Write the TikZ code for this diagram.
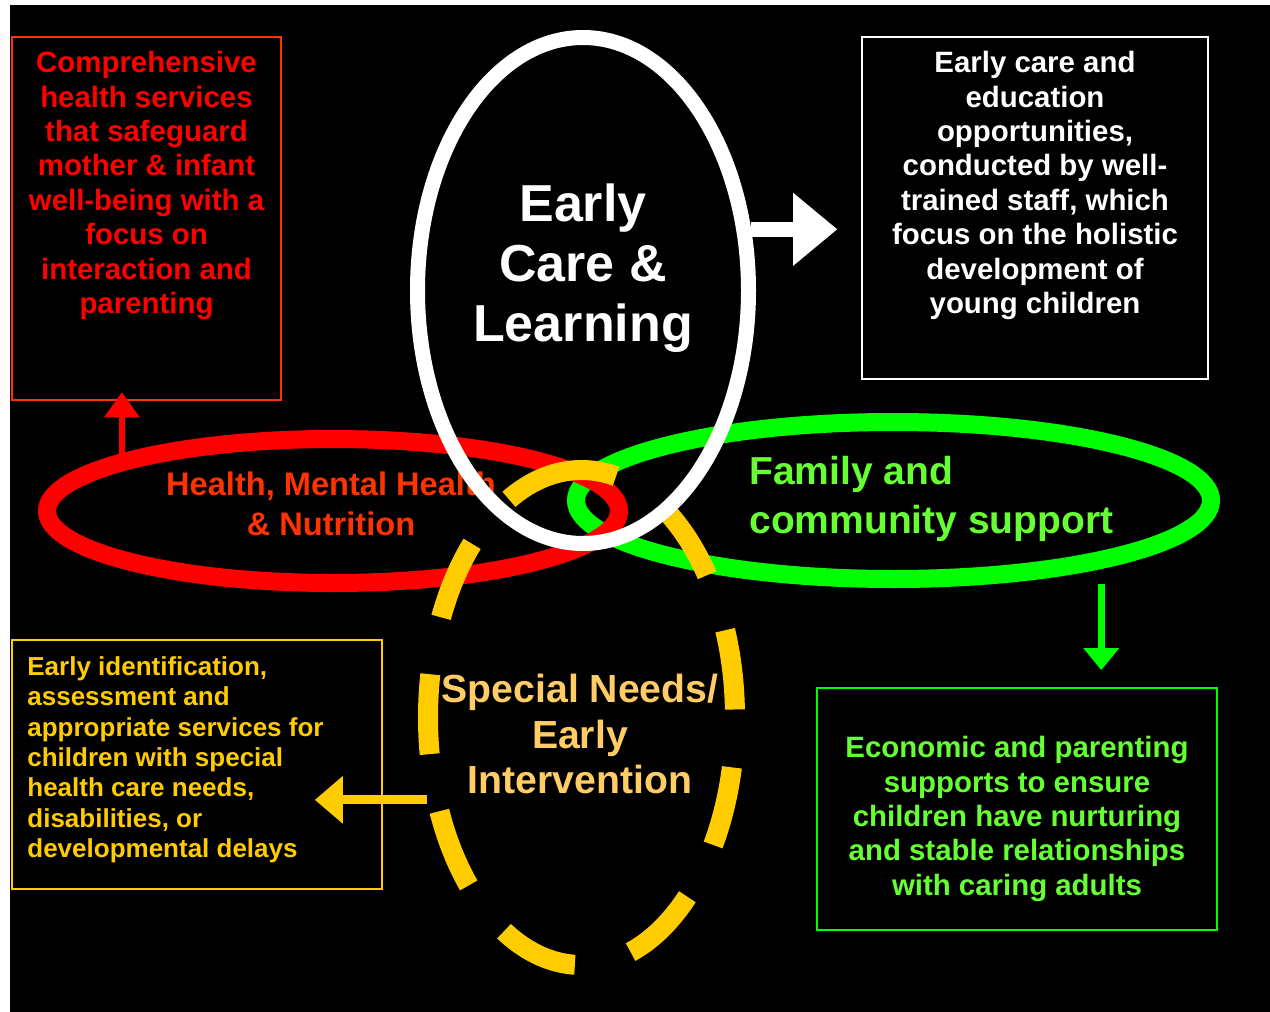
\documentclass[tikz,border=0pt]{standalone}
\usepackage{fontspec}
\setmainfont{Liberation Sans}
\usetikzlibrary{arrows.meta,shapes.geometric,positioning}
\definecolor{HlRed}{HTML}{FF0000}
\definecolor{HlOrange}{HTML}{FF3300}
\definecolor{HlGreen}{HTML}{00FF00}
\definecolor{HlLime}{HTML}{66FF33}
\definecolor{HlYellow}{HTML}{FFCC00}
\definecolor{HlSand}{HTML}{FFCC66}
\tikzset{
  diagram style/.style={
    x=0.5pt,y=-0.5pt,
  },
  ring/.style={
    ellipse,
    draw=#1,
    inner sep=0pt,
  },
  ring 1/.style={
    ring=white, line width=7.5pt,
    minimum width=165.5pt, minimum height=253pt,
  },
  ring 2/.style={
    ring=HlRed, line width=9pt,
    minimum width=286pt, minimum height=72pt,
  },
  ring 3/.style={
    ring=HlGreen, line width=9pt,
    minimum width=317.5pt, minimum height=78.5pt,
  },
  % turned so that the dashes start at the top
  ring 4/.style={
    ring=HlYellow, line width=10pt, rotate=90,
    minimum width=247.5pt, minimum height=153.5pt,
    dash pattern=on 40pt off 29pt,
  },
  frame/.style={
    draw=#1,
    line width=1pt,
    inner sep=0pt,
  },
  box text/.style={
    text=#1,
    align=center,
    inner sep=0pt,
    font=\bfseries\fontsize{14.7}{17.2}\selectfont,
  },
  ring text/.style={
    text=#1,
    align=center,
    inner sep=0pt,
  },
  block arrow/.style args={#1/#2/#3/#4}{
    draw=#1,
    line width=#2,
    -{Triangle[length=#3,width=#4,line width=0pt]},
  },
}

\begin{document}
\begin{tikzpicture}[diagram style]
  \useasboundingbox (0,0) rectangle (1270,1012);
  \fill[black] (10,5) rectangle (1270,1012);

  % boxes
  \node[frame=HlOrange, minimum width=134.5pt, minimum height=181.5pt] (hsbox) at (146.5,218.5) {};
  \node[box text=HlRed, below=7.5pt of hsbox.north] (hstext)
    {Comprehensive\\health services\\that safeguard\\mother \& infant\\well-being with a\\focus on\\interaction and\\parenting};
  \node[frame=white, minimum width=173pt, minimum height=171pt] (clbox) at (1035,208) {};
  \node[box text=white, below=7.5pt of clbox.north] (cltext)
    {Early care and\\education\\opportunities,\\conducted by well-\\trained staff, which\\focus on the holistic\\development of\\young children};
  \node[frame=HlYellow, minimum width=185pt, minimum height=124.5pt] (snbox) at (197,764.5) {};
  \node[box text=HlYellow, align=left, font=\bfseries\fontsize{13}{15.2}\selectfont,
    below right=8.5pt and 8pt of snbox.north west] (sntext)
    {Early identification,\\assessment and\\appropriate services for\\children with special\\health care needs,\\disabilities, or\\developmental delays};
  \node[frame=HlGreen, minimum width=200pt, minimum height=121pt] (fcbox) at (1017,809) {};
  \node[box text=HlLime, below=24.5pt of fcbox.north] (fctext)
    {Economic and parenting\\supports to ensure\\children have nurturing\\and stable relationships\\with caring adults};

  % rings
  \node[ring 3] (efc) at (893.5,500.5) {};
  \node[ring 2] (ehm) at (333,511) {};
  \node[ring text=HlOrange, font=\bfseries\fontsize{16.3}{20}\selectfont] (ehmlabel) at (331,504)
    {Health, Mental Health\\\& Nutrition};
  \node[ring 4] (esn) at (581.5,717.5) {};
  \node[ring 1] (ecl) at (583,290.5) {};
  \node[ring text=white, font=\bfseries\fontsize{26}{30}\selectfont] (ecllabel) at (583,268.5)
    {Early\\Care \&\\Learning};
  \node[ring text=HlLime, align=left, anchor=west, font=\bfseries\fontsize{19.5}{24.5}\selectfont] (efclabel) at (749,499)
    {Family and\\community support};
  \node[ring text=HlSand, font=\bfseries\fontsize{19.6}{22.75}\selectfont] (esnlabel) at (580,734)
    {Special Needs/\\Early\\Intervention};

  % arrows
  \draw[block arrow=white/7.5pt/22pt/36.5pt] (ecl.20) -- ++(86,0);
  \draw[block arrow=HlRed/3pt/12.5pt/18pt] (ehm.165.5) -- ++(0,-62);
  \draw[block arrow=HlGreen/3.5pt/11pt/18pt, shorten <=8pt] (efc.342) -- ++(0,102);
  \draw[block arrow=HlYellow/4.5pt/14pt/24pt] (esn.118) -- ++(-111.6,0);
\end{tikzpicture}
\end{document}
